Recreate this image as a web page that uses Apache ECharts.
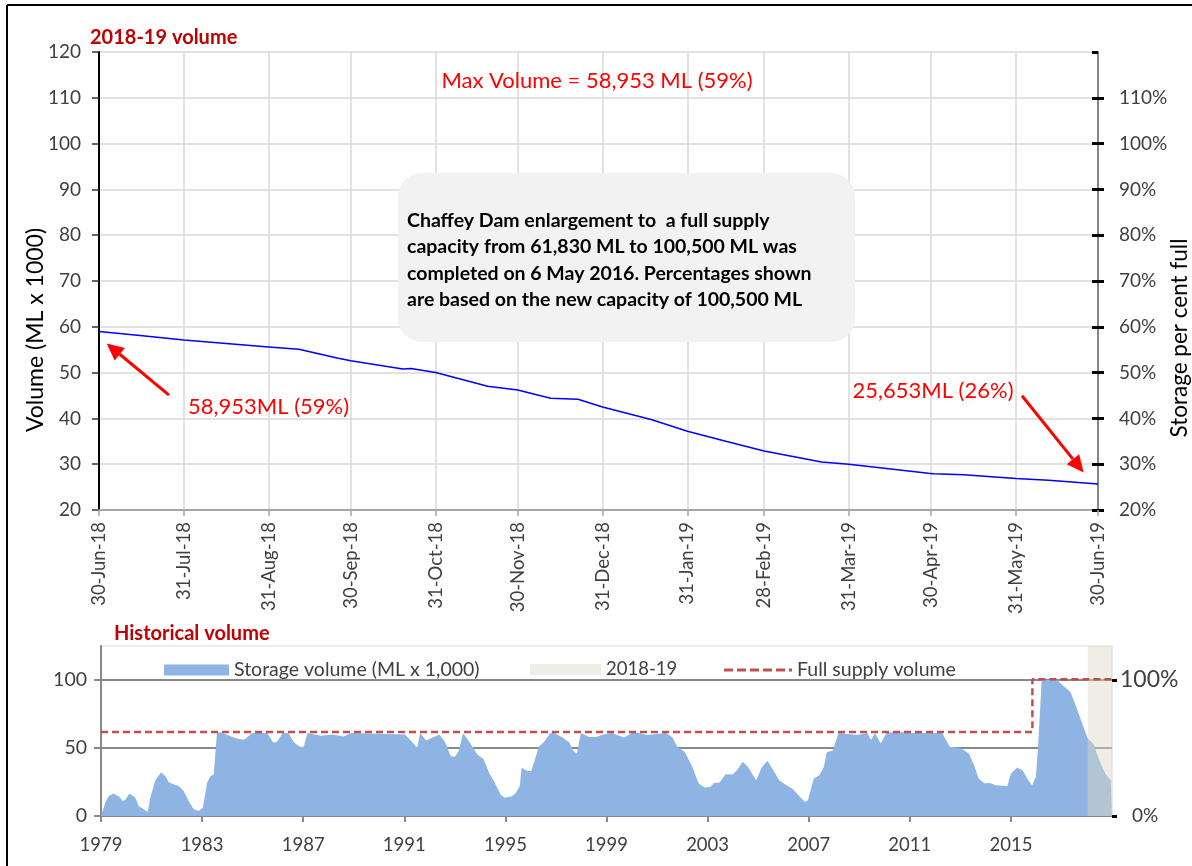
<!DOCTYPE html>
<html><head><meta charset="utf-8">
<script src="https://cdn.jsdelivr.net/npm/echarts@6/dist/echarts.min.js"></script>
<style>html,body{margin:0;padding:0;background:#fff}#c{width:1192px;height:866px}</style>
</head><body><div id="c"></div>
<script>
// ---------- Top chart: 2018-19 volume ----------
const monthEndLabels = ['30-Jun-18','31-Jul-18','31-Aug-18','30-Sep-18','31-Oct-18','30-Nov-18','31-Dec-18','31-Jan-19','28-Feb-19','31-Mar-19','30-Apr-19','31-May-19','30-Jun-19'];
// day index since 30-Jun-18
const volDay = [0, 15, 31, 62, 73, 87, 92, 111, 114, 123, 142, 153, 165, 175, 184, 202, 215, 229, 243, 264, 274, 303, 305, 316, 335, 347, 365];
// volume, ML x 1000
const volML = [58.953, 58.1, 57.1, 55.6, 55.1, 53.2, 52.6, 50.8, 50.9, 50.0, 47.0, 46.2, 44.4, 44.2, 42.5, 39.7, 37.2, 35.0, 32.9, 30.5, 30.0, 28.0, 27.9, 27.7, 26.9, 26.5, 25.653];
const CAPACITY = 100.5;

// ---------- Bottom chart: historical volume ----------
const histYear = [1979.0,1979.04,1979.17,1979.3,1979.5,1979.7,1979.87,1979.96,1980.13,1980.36,1980.49,1980.69,1980.85,1980.95,1981.15,1981.38,1981.55,1981.68,1981.88,1982.08,1982.27,1982.47,1982.67,1982.87,1983.03,1983.2,1983.33,1983.46,1983.59,1983.73,1984.37,1984.67,1984.98,1985.58,1985.81,1985.96,1986.19,1986.41,1986.64,1986.87,1987.02,1987.17,1987.7,1988.15,1988.6,1988.9,1990.0,1991.03,1991.33,1991.51,1991.63,1991.86,1992.39,1992.62,1992.84,1993.0,1993.15,1993.33,1993.6,1993.9,1994.13,1994.36,1994.58,1994.81,1994.96,1995.26,1995.41,1995.57,1995.64,1995.87,1996.02,1996.17,1996.32,1996.55,1996.78,1996.93,1997.23,1997.53,1997.68,1997.83,1997.99,1998.3,1998.6,1998.8,1999.2,1999.7,2000.1,2000.6,2001.35,2001.6,2001.8,2002.1,2002.4,2002.64,2002.87,2003.1,2003.25,2003.48,2003.7,2004.0,2004.16,2004.39,2004.6,2004.92,2005.15,2005.37,2005.6,2005.83,2006.06,2006.36,2006.66,2006.86,2006.97,2007.2,2007.42,2007.6,2007.72,2007.95,2008.18,2008.94,2009.32,2009.47,2009.62,2009.85,2010.08,2010.46,2011.06,2012.28,2012.58,2013.04,2013.34,2013.57,2013.72,2013.95,2014.17,2014.4,2014.86,2015.0,2015.24,2015.46,2015.69,2015.84,2015.99,2016.07,2016.22,2016.83,2017.06,2017.36,2017.59,2017.82,2018.04,2018.27,2018.5,2018.73,2018.95,2019.0];
const histVol = [0,0.5,9.8,14.6,16.6,14.6,11,12,16.6,13.4,7.3,4.9,2.9,13.4,26.3,32.2,29.3,24.9,23.2,22,18.3,11,4.9,3.7,6.1,24.4,29.3,30.5,61,61.5,57,56,61,61,54,54.5,61,61,54,51,51,61,59,60,58.5,61,60.5,60,54,50,61,55.6,60,54,44,43.5,47.6,61,53.7,45,42,31.7,24.4,15.8,13.4,14.6,17,22,35.4,33,33,41.5,51,55,61,61,58,54,48,46,61,58,58,59.5,61,57.7,62,59.5,61,58,51,47,36,24,21,21.4,24.3,24.6,30.5,30.7,33.7,39.8,36,26.3,36,40.5,33.7,26.3,23.3,20,14,10.3,11.5,27.5,30,36,47,48,61,59.5,61,55.8,61,53.3,61,62,61,61,51,49.6,46,36,27.5,24,24.3,22.6,22,31,35.6,33.7,26.3,22.6,28.7,49.6,100,100,96,91,80,68,57,53,41,31.2,26.3,25.6];
const fullSupplyYear = [1979, 2015.85, 2015.85, 2019];
const fullSupplyVol = [61.83, 61.83, 100.5, 100.5];
const bandYears = [2018.04, 2019.0];
const BASE_YEAR = 1979;

const MON = ['Jan','Feb','Mar','Apr','May','Jun','Jul','Aug','Sep','Oct','Nov','Dec'];
const startMs = Date.UTC(2018, 5, 30);
const dayCats = [];
for (let i = 0; i < 366; i++) {
  const d = new Date(startMs + i * 86400000);
  dayCats.push(d.getUTCDate() + '-' + MON[d.getUTCMonth()] + '-' + String(d.getUTCFullYear()).slice(2));
}
const isMonthEnd = (idx, val) => monthEndLabels.indexOf(val === undefined ? dayCats[idx] : val) >= 0;

const FONT = 'Lato';
const TXT = '#404040';
const chart = echarts.init(document.getElementById('c'));
const dashIcon = 'path://M0,0H9V3H0Z M13,0H22V3H13Z M26,0H35V3H26Z M39,0H48V3H39Z M52,0H61V3H52Z M65,0H68V3H65Z';

const option = {
  animation: false,
  textStyle: { fontFamily: FONT },
  grid: [
    { left: 99, width: 999, top: 52, height: 458 },
    { left: 101, width: 1011, top: 646, height: 170, show: true, borderColor: '#d9d9d9', borderWidth: 1, backgroundColor: 'transparent' }
  ],
  legend: [
    { left: 159, top: 655, itemWidth: 65, itemHeight: 11, selectedMode: false, textStyle: { fontSize: 19.5, color: TXT, fontFamily: FONT },
      data: [{ name: 'Storage volume (ML x 1,000)', icon: 'rect' }] },
    { left: 525, top: 655, itemWidth: 71, itemHeight: 11, selectedMode: false, textStyle: { fontSize: 18.5, color: TXT, fontFamily: FONT },
      data: [{ name: '2018-19', icon: 'rect' }] },
    { left: 719, top: 655, itemWidth: 68, itemHeight: 3, selectedMode: false, textStyle: { fontSize: 19.5, color: TXT, fontFamily: FONT },
      data: [{ name: 'Full supply volume', icon: dashIcon, itemStyle: { color: '#c0504d' } }] }
  ],
  xAxis: [
    { type: 'category', gridIndex: 0, data: dayCats, boundaryGap: false,
      axisLine: { lineStyle: { color: '#a6a6a6', width: 2 } },
      axisTick: { interval: isMonthEnd, length: 6, lineStyle: { color: '#a6a6a6', width: 1.5 } },
      axisLabel: { interval: isMonthEnd, rotate: 90, fontSize: 18.5, color: TXT, margin: 12, fontFamily: FONT },
      splitLine: { show: true, interval: isMonthEnd, lineStyle: { color: '#d9d9d9', width: 1.5 } } },
    { type: 'value', gridIndex: 1, min: 0, max: 40, interval: 4,
      axisLine: { lineStyle: { color: '#898989', width: 2 } },
      axisTick: { length: 6, lineStyle: { color: '#898989', width: 2 } },
      axisLabel: { showMaxLabel: false, fontSize: 18.5, color: TXT, margin: 20, fontFamily: FONT, formatter: v => String(v + BASE_YEAR) },
      splitLine: { show: false } }
  ],
  yAxis: [
    { type: 'value', gridIndex: 0, position: 'left', min: 20, max: 120, interval: 10,
      axisLine: { show: true, lineStyle: { color: '#000', width: 2 } },
      axisTick: { show: true, length: 7, lineStyle: { color: '#333', width: 1.5 } },
      axisLabel: { fontSize: 19, color: TXT, margin: 18, fontFamily: FONT },
      splitLine: { lineStyle: { color: '#d9d9d9', width: 1.5 } } },
    { type: 'value', gridIndex: 0, position: 'right', min: 20, max: 120, interval: 10,
      axisLine: { show: true, lineStyle: { color: '#868686', width: 2 } },
      axisTick: { show: true, length: 6, lineStyle: { color: '#000', width: 3 } },
      axisLabel: { showMaxLabel: false, fontSize: 19, color: TXT, margin: 21, fontFamily: FONT, formatter: v => v + '%' },
      splitLine: { show: false } },
    { type: 'value', gridIndex: 0, position: 'right', min: 20, max: 120, interval: 10,
      axisLine: { show: false }, axisLabel: { show: false }, splitLine: { show: false },
      axisTick: { show: true, inside: true, length: 6, lineStyle: { color: '#000', width: 3 } } },
    { type: 'value', gridIndex: 1, position: 'left', min: 0, max: 125,
      axisLine: { show: true, lineStyle: { color: '#898989', width: 2 } },
      axisTick: { show: true, length: 7, customValues: [0, 50, 100], lineStyle: { color: '#898989', width: 2 } },
      axisLabel: { customValues: [0, 50, 100], fontSize: 19.5, color: TXT, margin: 14, fontFamily: FONT },
      splitLine: { show: true, lineStyle: { color: '#898989', width: 2 } } },
    { type: 'value', gridIndex: 1, position: 'right', min: 0, max: 125, interval: 100,
      axisLine: { show: false },
      axisTick: { show: true, length: 5, lineStyle: { color: '#000', width: 3 } },
      axisLabel: { showMaxLabel: false, margin: 8, fontFamily: FONT, color: TXT,
        formatter: v => v === 100 ? '{b|100%}' : '{s|0%}',
        rich: { b: { fontSize: 23, color: TXT, fontFamily: FONT }, s: { fontSize: 19, color: TXT, fontFamily: FONT, padding: [0, 0, 0, 12] } } },
      splitLine: { show: false } }
  ],
  series: [
    { name: '2018-19 volume', type: 'line', xAxisIndex: 0, yAxisIndex: 0,
      data: volDay.map((d, i) => [d, volML[i]]), symbol: 'none',
      lineStyle: { color: '#0000ff', width: 1.5 }, itemStyle: { color: '#0000ff' }, z: 3 },
    { name: 'Storage volume (ML x 1,000)', type: 'line', xAxisIndex: 1, yAxisIndex: 3,
      data: histYear.map((y, i) => [y - BASE_YEAR, histVol[i]]), symbol: 'none',
      lineStyle: { width: 0 }, itemStyle: { color: '#8db4e2' }, areaStyle: { color: '#8db4e2', opacity: 1 }, z: 2 },
    { name: '2018-19', type: 'line', xAxisIndex: 1, yAxisIndex: 3, data: [[bandYears[1] - BASE_YEAR, null]],
      symbol: 'none', itemStyle: { color: '#eeede6' }, lineStyle: { width: 0 }, z: 3,
      markArea: { silent: true, z: 3, itemStyle: { color: 'rgba(221,217,195,0.45)' },
        data: [[{ xAxis: bandYears[0] - BASE_YEAR }, { xAxis: bandYears[1] - BASE_YEAR }]] } },
    { name: 'Full supply volume', type: 'line', xAxisIndex: 1, yAxisIndex: 3,
      data: fullSupplyYear.map((y, i) => [y - BASE_YEAR, fullSupplyVol[i]]), symbol: 'none',
      lineStyle: { color: '#c0504d', width: 2.5, type: [7, 4] }, itemStyle: { color: '#c0504d' }, z: 5 }
  ]
};
chart.setOption(option);

// ---------- annotations ----------
const RED = '#ff0000';
function arrow(tail, tip, color) {
  const dx = tip[0] - tail[0], dy = tip[1] - tail[1];
  const len = Math.sqrt(dx * dx + dy * dy), ux = dx / len, uy = dy / len;
  const hl = 17, hw = 8;
  const bx = tip[0] - ux * hl, by = tip[1] - uy * hl;
  return [
    { type: 'line', silent: true, shape: { x1: tail[0], y1: tail[1], x2: bx, y2: by }, style: { stroke: color, lineWidth: 3 }, z: 10 },
    { type: 'polygon', silent: true, shape: { points: [[tip[0], tip[1]], [bx - uy * hw, by + ux * hw], [bx + uy * hw, by - ux * hw]] }, style: { fill: color }, z: 10 }
  ];
}
const pFirst = chart.convertToPixel({ xAxisIndex: 0, yAxisIndex: 0 }, [volDay[0], volML[0]]);
const last = volDay.length - 1;
const pLast = chart.convertToPixel({ xAxisIndex: 0, yAxisIndex: 0 }, [volDay[last], volML[last]]);

const fmt = n => Math.round(n * 1000).toLocaleString('en-US');
const pct = n => Math.round(n / CAPACITY * 100) + '%';
const maxVol = Math.max.apply(null, volML);

const graphics = [
  // frame lines
  { type: 'line', silent: true, shape: { x1: 7, y1: 5, x2: 1192, y2: 5 }, style: { stroke: '#000', lineWidth: 2 } },
  { type: 'line', silent: true, shape: { x1: 7, y1: 5, x2: 7, y2: 866 }, style: { stroke: '#000', lineWidth: 2 } },
  // titles
  { type: 'text', left: 90, top: 28, style: { text: '2018-19 volume', fill: '#c00000', font: 'bold 20px Lato' } },
  { type: 'text', left: 114, top: 624, style: { text: 'Historical volume', fill: '#c00000', font: 'bold 20px Lato' } },
  // axis names
  { type: 'text', x: 36, y: 330, rotation: Math.PI / 2, style: { text: 'Volume (ML x 1000)', fill: '#000', font: '23px Lato', align: 'center', verticalAlign: 'middle' } },
  { type: 'text', x: 1180, y: 338, rotation: Math.PI / 2, style: { text: 'Storage per cent full', fill: '#000', font: '22.5px Lato', align: 'center', verticalAlign: 'middle' } },
  // max volume
  { type: 'text', x: 597, y: 81, style: { text: 'Max Volume = ' + fmt(maxVol) + ' ML (' + pct(maxVol) + ')', fill: RED, font: '22px Lato', align: 'center', verticalAlign: 'middle' } },
  // note box
  { type: 'rect', silent: true, shape: { x: 398, y: 173, width: 457, height: 169, r: 24 }, style: { fill: '#f2f2f2' }, z: 5 },
  { type: 'text', x: 407, y: 207, z: 6, style: { text: 'Chaffey Dam enlargement to  a full supply\ncapacity from 61,830 ML to 100,500 ML was\ncompleted on 6 May 2016. Percentages shown\nare based on the new capacity of 100,500 ML', fill: '#000', font: 'bold 19.5px Lato', lineHeight: 26.5, verticalAlign: 'top' } },
  // start / end labels
  { type: 'text', x: pFirst[0] + 89, y: pFirst[1] + 75, style: { text: fmt(volML[0]) + 'ML (' + pct(volML[0]) + ')', fill: RED, font: '22px Lato', verticalAlign: 'middle' } },
  { type: 'text', x: pLast[0] - 165, y: pLast[1] - 93, style: { text: fmt(volML[last]) + 'ML (' + pct(volML[last]) + ')', fill: RED, font: '22px Lato', align: 'center', verticalAlign: 'middle' } }
].concat(
  arrow([pFirst[0] + 70, pFirst[1] + 63.5], [pFirst[0] + 7.7, pFirst[1] + 11.8], RED),
  arrow([pLast[0] - 76, pLast[1] - 88.4], [pLast[0] - 14.4, pLast[1] - 11.7], RED)
);
chart.setOption({ graphic: graphics });
</script>
</body></html>
